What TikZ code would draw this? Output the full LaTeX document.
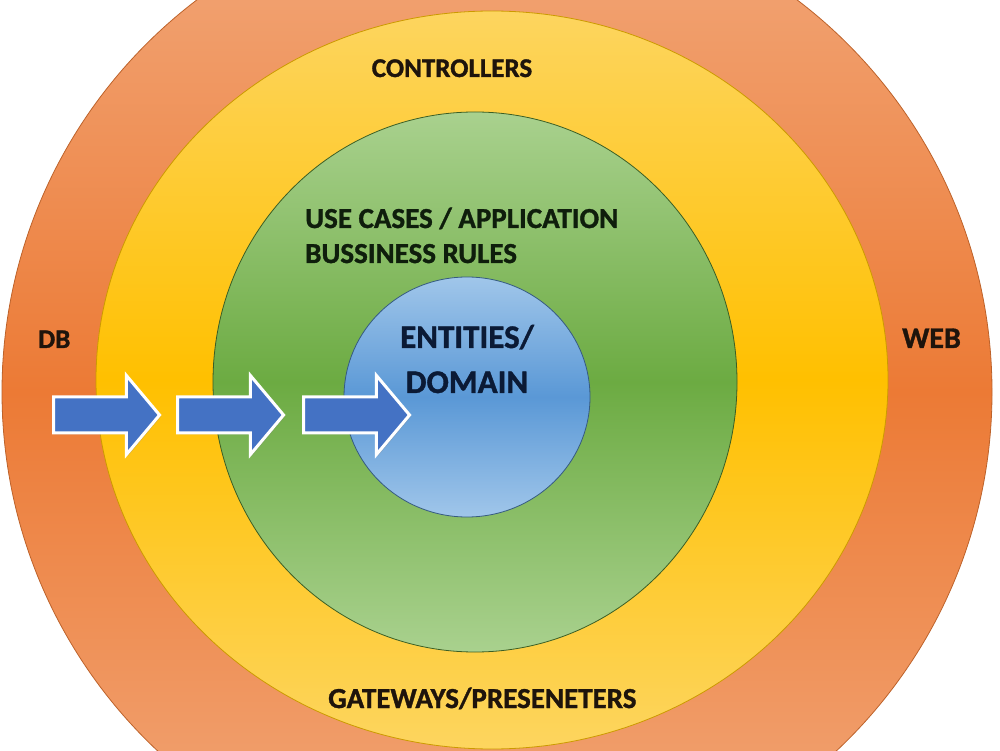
\documentclass[tikz,border=0pt]{standalone}
\usepackage{fontspec}
\setmainfont{Carlito}[BoldFeatures={FakeBold=1.2}]
\usetikzlibrary{shapes.geometric, shapes.arrows, shadows}

\definecolor{ink}{HTML}{1E140C}
\definecolor{inkgreen}{HTML}{0F1E0C}
\definecolor{inkblue}{HTML}{0B1A35}
\definecolor{webdark}{HTML}{EC7A35}
\definecolor{weblight}{HTML}{F2A97C}
\definecolor{ctrldark}{HTML}{FFC000}
\definecolor{ctrllight}{HTML}{FDD55F}
\definecolor{casedark}{HTML}{6CAB42}
\definecolor{caselight}{HTML}{A9D18E}
\definecolor{coredark}{HTML}{5A98D6}
\definecolor{corelight}{HTML}{A0C6EA}
\definecolor{arrowblue}{HTML}{4472C4}

\begin{document}
\begin{tikzpicture}[
  x=1pt, y=1pt,
  layer/.style={
    ellipse,
    inner sep=0pt,
    line width=0.8pt
  },
  ringtext/.style={
    font=\bfseries,
    inner sep=0pt,
    text=ink
  },
  flow/.style={
    single arrow,
    draw=white,
    fill=arrowblue,
    line width=3pt,
    inner sep=0pt,
    text height=33pt,
    text depth=0pt,
    minimum height=106pt,
    minimum width=76pt,
    single arrow head extend=21.5pt,
    single arrow tip angle=100,
    drop shadow={opacity=0.3, shadow xshift=1.5pt, shadow yshift=-1.5pt}
  }
]

\useasboundingbox (0,0) rectangle (1000,750);
\clip (0,0) rectangle (1000,750);
\fill[white] (0,0) rectangle (1000,750);

% Rings, outside in
\node[layer, draw=webdark!80!black, top color=weblight, bottom color=weblight,
  middle color=webdark, minimum width=990pt, minimum height=986pt] (web) at (497,358) {};
\node[layer, draw=ctrldark!80!black, top color=ctrllight, bottom color=ctrllight,
  middle color=ctrldark, minimum width=792pt, minimum height=738pt] (ctrl) at (492,370) {};
\node[layer, draw=casedark!55!black, top color=caselight, bottom color=caselight,
  middle color=casedark, minimum width=524pt, minimum height=540pt] (cases) at (475,368) {};
\node[layer, draw=coredark!60!black, top color=corelight, bottom color=corelight,
  middle color=coredark, minimum width=246pt, minimum height=240pt] (core) at (467,353) {};

% Ring labels (base = last line)
\node[ringtext, font=\bfseries\fontsize{27}{32}\selectfont, anchor=base] (ctrltxt) at (452,673) {CONTROLLERS};
\node[ringtext, text=inkgreen, font=\bfseries\fontsize{29}{35}\selectfont, align=left, anchor=base west]
  (casetxt) at (305,487) {USE CASES / APPLICATION\\BUSSINESS RULES};
\node[ringtext, text=inkblue, font=\bfseries\fontsize{33}{45}\selectfont, align=center, anchor=base]
  (coretxt) at (467,357) {ENTITIES/\\DOMAIN};
\node[ringtext, font=\bfseries\fontsize{27}{32}\selectfont, anchor=base west] (dbtxt) at (38,402) {DB};
\node[ringtext, font=\bfseries\fontsize{30}{36}\selectfont, anchor=base west] (webtxt) at (902,402) {WEB};
\node[ringtext, font=\bfseries\fontsize{29}{35}\selectfont, anchor=base west] (gatetxt) at (328,42) {GATEWAYS/PRESENETERS};

% Dependency arrows pointing inwards
\node[flow] (flowa) at (99,335) {};
\node[flow] (flowb) at (223,335) {};
\node[flow] (flowc) at (349,335) {};

\end{tikzpicture}
\end{document}
